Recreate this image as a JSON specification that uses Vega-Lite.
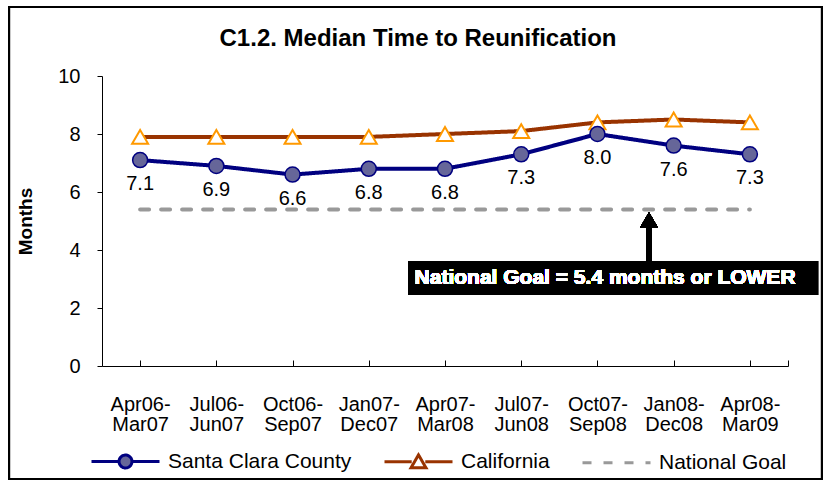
{
  "$schema": "https://vega.github.io/schema/vega-lite/v6.json",
  "width": 686,
  "height": 290,
  "autosize": {"type": "none"},
  "padding": {"left": 102, "top": 76, "right": 38, "bottom": 119},
  "background": "white",
  "title": {
    "text": "C1.2. Median Time to Reunification",
    "font": "Liberation Sans",
    "fontSize": 24,
    "fontWeight": "bold",
    "color": "black",
    "anchor": "middle",
    "frame": "group",
    "dx": -27,
    "offset": -45
  },
  "config": {
    "view": {"stroke": null},
    "font": "Liberation Sans",
    "text": {"font": "Liberation Sans"}
  },
  "data": {
    "values": [
      {"i": 0, "period": "Apr06-Mar07", "series": "Santa Clara County", "value": 7.1},
      {"i": 1, "period": "Jul06-Jun07", "series": "Santa Clara County", "value": 6.9},
      {"i": 2, "period": "Oct06-Sep07", "series": "Santa Clara County", "value": 6.6},
      {"i": 3, "period": "Jan07-Dec07", "series": "Santa Clara County", "value": 6.8},
      {"i": 4, "period": "Apr07-Mar08", "series": "Santa Clara County", "value": 6.8},
      {"i": 5, "period": "Jul07-Jun08", "series": "Santa Clara County", "value": 7.3},
      {"i": 6, "period": "Oct07-Sep08", "series": "Santa Clara County", "value": 8.0},
      {"i": 7, "period": "Jan08-Dec08", "series": "Santa Clara County", "value": 7.6},
      {"i": 8, "period": "Apr08-Mar09", "series": "Santa Clara County", "value": 7.3},
      {"i": 0, "period": "Apr06-Mar07", "series": "California", "value": 7.9},
      {"i": 1, "period": "Jul06-Jun07", "series": "California", "value": 7.9},
      {"i": 2, "period": "Oct06-Sep07", "series": "California", "value": 7.9},
      {"i": 3, "period": "Jan07-Dec07", "series": "California", "value": 7.9},
      {"i": 4, "period": "Apr07-Mar08", "series": "California", "value": 8.0},
      {"i": 5, "period": "Jul07-Jun08", "series": "California", "value": 8.1},
      {"i": 6, "period": "Oct07-Sep08", "series": "California", "value": 8.4},
      {"i": 7, "period": "Jan08-Dec08", "series": "California", "value": 8.5},
      {"i": 8, "period": "Apr08-Mar09", "series": "California", "value": 8.4},
      {"i": 0, "period": "Apr06-Mar07", "series": "National Goal", "value": 5.4},
      {"i": 1, "period": "Jul06-Jun07", "series": "National Goal", "value": 5.4},
      {"i": 2, "period": "Oct06-Sep07", "series": "National Goal", "value": 5.4},
      {"i": 3, "period": "Jan07-Dec07", "series": "National Goal", "value": 5.4},
      {"i": 4, "period": "Apr07-Mar08", "series": "National Goal", "value": 5.4},
      {"i": 5, "period": "Jul07-Jun08", "series": "National Goal", "value": 5.4},
      {"i": 6, "period": "Oct07-Sep08", "series": "National Goal", "value": 5.4},
      {"i": 7, "period": "Jan08-Dec08", "series": "National Goal", "value": 5.4},
      {"i": 8, "period": "Apr08-Mar09", "series": "National Goal", "value": 5.4}
    ]
  },
  "encoding": {
    "x": {
      "field": "i",
      "type": "quantitative",
      "scale": {"domain": [-0.5, 8.5], "nice": false, "zero": false},
      "axis": {
        "title": null,
        "grid": false,
        "values": [0, 1, 2, 3, 4, 5, 6, 7, 8, 8.5],
        "labelExpr": "datum.value > 8.2 ? '' : split(['Apr06-|Mar07','Jul06-|Jun07','Oct06-|Sep07','Jan07-|Dec07','Apr07-|Mar08','Jul07-|Jun08','Oct07-|Sep08','Jan08-|Dec08','Apr08-|Mar09'][datum.value], '|')",
        "labelFontSize": 20,
        "labelLineHeight": 20,
        "labelColor": "black",
        "labelPadding": 34,
        "labelFlush": false,
        "labelOverlap": false,
        "tickSize": -6,
        "tickColor": "black",
        "domainColor": "black",
        "labelAngle": 0
      }
    },
    "y": {
      "field": "value",
      "type": "quantitative",
      "scale": {"domain": [0, 10], "nice": false},
      "axis": {
        "title": "Months",
        "titleFontSize": 19,
        "titleFontWeight": "bold",
        "titleColor": "black",
        "titlePadding": 22,
        "grid": false,
        "values": [0, 2, 4, 6, 8, 10],
        "labelFontSize": 20,
        "labelColor": "black",
        "labelPadding": 17,
        "tickSize": 5,
        "tickColor": "black",
        "domainColor": "black"
      }
    }
  },
  "layer": [
    {
      "mark": {"type": "rect", "fill": null, "stroke": "black", "strokeWidth": 2, "clip": false},
      "encoding": {
        "x": {"datum": -1.72},
        "x2": {"datum": 8.946},
        "y": {"datum": 12.38},
        "y2": {"datum": -3.897}
      }
    },
    {
      "mark": {"type": "line", "strokeWidth": 4, "strokeCap": "round"},
      "encoding": {
        "order": {"field": "i"},
        "color": {
          "field": "series",
          "type": "nominal",
          "scale": {
            "domain": ["Santa Clara County", "California", "National Goal"],
            "range": ["#000080", "#993300", "#999999"]
          },
          "legend": {
            "orient": "none",
            "legendX": -12,
            "legendY": 350,
            "direction": "horizontal",
            "title": null,
            "labelFontSize": 21,
            "labelColor": "black",
            "labelFont": "Liberation Sans",
            "labelLimit": 400,
            "symbolSize": 4624,
            "symbolStrokeWidth": 3,
            "labelOffset": 7,
            "columnPadding": 26,
            "encode": {
              "symbols": {
                "update": {
                  "shape": {"signal": "datum.value === 'Santa Clara County' ? 'M-1,0H-0.19M0.19,0H1M0.19,0A0.19,0.19,0,1,1,-0.19,0A0.19,0.19,0,1,1,0.19,0Z' : datum.value === 'California' ? 'M-1,0H-0.2M0.2,0H1M0,-0.2L0.22,0.18L-0.22,0.18Z' : 'M-1,0H1'"},
                  "fill": {"signal": "datum.value === 'Santa Clara County' ? '#666699' : datum.value === 'California' ? 'white' : 'transparent'"},
                  "strokeDash": {"signal": "datum.value === 'National Goal' ? [8, 5] : [1, 0]"}
                }
              }
            }
          }
        },
        "strokeDash": {
          "field": "series",
          "type": "nominal",
          "scale": {
            "domain": ["Santa Clara County", "California", "National Goal"],
            "range": [[1, 0], [1, 0], [9, 12]]
          },
          "legend": null
        }
      }
    },
    {
      "transform": [{"filter": "datum.series === 'California'"}],
      "mark": {"type": "point", "shape": "triangle-up", "size": 256, "filled": true, "fill": "white", "stroke": "#FF9900", "strokeWidth": 2, "opacity": 1}
    },
    {
      "transform": [{"filter": "datum.series === 'Santa Clara County'"}],
      "mark": {"type": "point", "shape": "circle", "size": 225, "filled": true, "fill": "#666699", "stroke": "#000080", "strokeWidth": 1.5, "opacity": 1}
    },
    {
      "transform": [{"filter": "datum.series === 'Santa Clara County'"}],
      "mark": {"type": "text", "fontSize": 20, "color": "black", "dy": 24, "baseline": "middle"},
      "encoding": {"text": {"field": "value", "type": "quantitative", "format": ".1f"}}
    },
    {
      "mark": {"type": "rule", "strokeWidth": 5, "color": "black"},
      "encoding": {
        "x": {"datum": 6.676},
        "y": {"datum": 3.62},
        "y2": {"datum": 5.0}
      }
    },
    {
      "mark": {"type": "point", "shape": "triangle-up", "size": 324, "filled": true, "color": "black", "opacity": 1},
      "encoding": {
        "x": {"datum": 6.676},
        "y": {"datum": 5.034}
      }
    },
    {
      "mark": {"type": "rect", "color": "black", "clip": false},
      "encoding": {
        "x": {"datum": 3.515},
        "x2": {"datum": 8.894},
        "y": {"datum": 3.62},
        "y2": {"datum": 2.448}
      }
    },
    {
      "mark": {"type": "text", "fontSize": 21, "fontWeight": "bold", "color": "white", "baseline": "middle", "align": "center"},
      "encoding": {
        "x": {"datum": 6.1},
        "y": {"datum": 3.03},
        "text": {"value": "National Goal = 5.4 months or LOWER"}
      }
    }
  ]
}
